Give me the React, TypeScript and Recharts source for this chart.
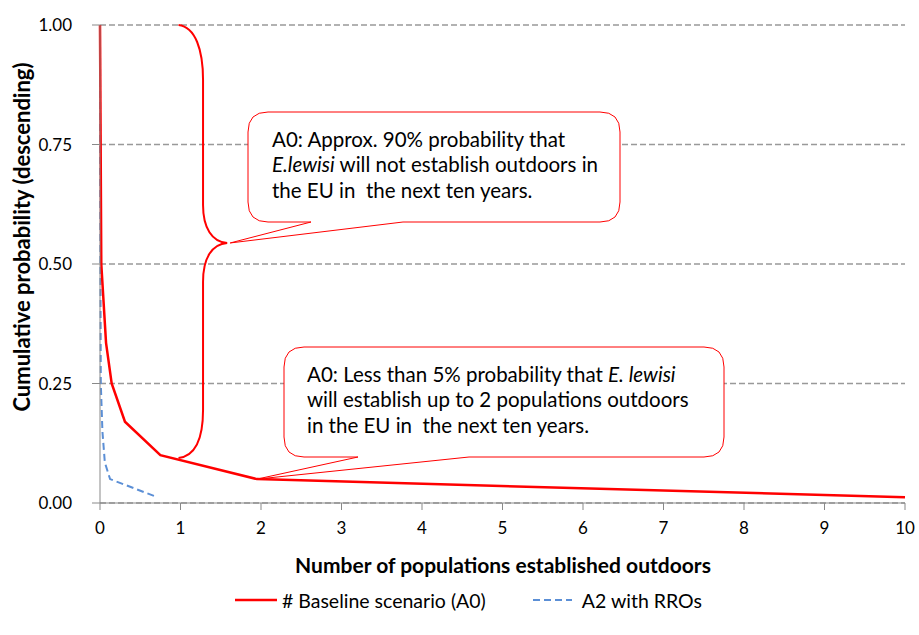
import React from "react";
import {
  LineChart,
  Line,
  XAxis,
  YAxis,
  CartesianGrid,
  Legend,
} from "recharts";

// series
const baselineX = [0, 0.016, 0.075, 0.145, 0.31, 0.75, 1.95, 10];
const baselineY = [1.0, 0.5, 0.335, 0.25, 0.17, 0.1, 0.05, 0.012];
const rroX = [0, 0.005, 0.01, 0.03, 0.06, 0.125, 0.7];
const rroY = [1.0, 0.5, 0.25, 0.15, 0.085, 0.05, 0.013];

const xTicks = [0, 1, 2, 3, 4, 5, 6, 7, 8, 9, 10];
const yTicks = [0, 0.25, 0.5, 0.75, 1];

const baselineName = "# Baseline scenario (A0)";
const rroName = "A2 with RROs";

const baselineData = baselineX.map((x, i) => ({ x, y: baselineY[i] }));
const rroData = rroX.map((x, i) => ({ x, y: rroY[i] }));

const W = 919;
const H = 635;
const FONT = "Lato, 'Open Sans', sans-serif";
const LEGEND_H = 20; // legend box height, recharts takes it off the plot

// plot box
const LEFT = 100;
const RIGHT = 905;
const TOP = 25;
const BOTTOM = 503;
const sx = (v: number) => LEFT + (v / 10) * (RIGHT - LEFT);
const sy = (v: number) => BOTTOM - v * (BOTTOM - TOP);

function callout(
  x0: number,
  y0: number,
  x1: number,
  y1: number,
  tailA: number,
  tailB: number,
  tip: [number, number]
) {
  const r = 20;
  return [
    `M${x0 + r},${y0}`,
    `H${x1 - r}`,
    `Q${x1},${y0} ${x1},${y0 + r}`,
    `V${y1 - r}`,
    `Q${x1},${y1} ${x1 - r},${y1}`,
    `H${tailB}`,
    `L${tip[0]},${tip[1]}`,
    `L${tailA},${y1}`,
    `H${x0 + r}`,
    `Q${x0},${y1} ${x0},${y1 - r}`,
    `V${y0 + r}`,
    `Q${x0},${y0} ${x0 + r},${y0}`,
    "Z",
  ].join(" ");
}

function Annotations() {
  // brace from (1, 1.0) to (1, 0.094) pointing at (1.58, 0.544)
  const bx = sx(1) - 2;
  const vx = sx(1.28);
  const tipX = sx(1.58);
  const tipY = sy(0.544);
  const top = sy(1);
  const bot = sy(0.094);
  const brace = `M${bx},${top} C${bx + 17},${top + 2} ${vx},${top + 25} ${vx},${top + 55}
    L${vx},${tipY - 38} C${vx},${tipY - 15} ${vx + 9},${tipY - 1} ${tipX},${tipY}
    C${vx + 9},${tipY + 1} ${vx},${tipY + 15} ${vx},${tipY + 39}
    L${vx},${bot - 48} C${vx},${bot - 18} ${vx - 8},${bot - 2} ${bx},${bot}`;

  const tip2: [number, number] = [sx(1.95), sy(0.05)];
  const tip1: [number, number] = [tipX + 3, tipY];

  const txt = { fontFamily: FONT, fontSize: 20.5, fill: "#000" };
  return (
    <svg
      width={W}
      height={H}
      style={{ position: "absolute", left: 0, top: 0, pointerEvents: "none" }}
    >
      <path d={brace} fill="none" stroke="#FF0000" strokeWidth={2} />
      <path
        d={callout(248, 112, 620, 222, 311, 403, tip1)}
        fill="#fff"
        stroke="#FF0000"
        strokeWidth={1}
      />
      <text x={272} y={147} {...txt}>
        A0: Approx. 90% probability that
      </text>
      <text x={272} y={172} {...txt}>
        <tspan fontStyle="italic">E.lewisi</tspan> will not establish outdoors in
      </text>
      <text x={272} y={198} {...txt} xmlSpace="preserve">
        the EU in  the next ten years.
      </text>

      <path
        d={callout(284, 347, 724, 457, 358, 469, tip2)}
        fill="#fff"
        stroke="#FF0000"
        strokeWidth={1}
      />
      <text x={307} y={382} {...txt}>
        A0: Less than 5% probability that{" "}
        <tspan fontStyle="italic">E. lewisi</tspan>
      </text>
      <text x={307} y={407} {...txt}>
        will establish up to 2 populations outdoors
      </text>
      <text x={307} y={433} {...txt} xmlSpace="preserve">
        in the EU in  the next ten years.
      </text>
    </svg>
  );
}

function LegendContent() {
  return (
    <div
      style={{
        height: LEGEND_H,
        display: "flex",
        justifyContent: "center",
        alignItems: "center",
        fontFamily: FONT,
        fontSize: 19.5,
        color: "#000",
        paddingLeft: 18,
      }}
    >
      <svg width={42} height={10} style={{ marginRight: 5 }}>
        <line x1={0} y1={5} x2={42} y2={5} stroke="#FF0000" strokeWidth={2.5} />
      </svg>
      <span style={{ marginRight: 47 }}>{baselineName}</span>
      <svg width={39} height={10} style={{ marginRight: 10 }}>
        <line
          x1={0}
          y1={5}
          x2={39}
          y2={5}
          stroke="#5B8FD6"
          strokeWidth={2}
          strokeDasharray="7 4"
        />
      </svg>
      <span>{rroName}</span>
    </div>
  );
}

export default function App() {
  return (
    <div
      style={{
        position: "absolute",
        left: 0,
        top: 0,
        width: W,
        height: H,
        background: "#fff",
      }}
    >
      <LineChart
        width={W}
        height={H}
        margin={{ top: TOP, right: W - RIGHT, left: 40, bottom: 0 }}
      >
        <CartesianGrid
          vertical={false}
          stroke="#999"
          strokeDasharray="6 3"
          strokeWidth={1.3}
        />
        <XAxis
          dataKey="x"
          type="number"
          domain={[0, 10]}
          ticks={xTicks}
          allowDuplicatedCategory={false}
          height={H - BOTTOM - LEGEND_H}
          stroke="#898989"
          tickSize={7}
          tickMargin={12}
          tick={{ fontFamily: FONT, fontSize: 17, fill: "#000" }}
          label={{
            content: () => (
              <text
                x={503}
                y={573}
                textAnchor="middle"
                fontFamily={FONT}
                fontWeight="bold"
                fontSize={21}
                fill="#000"
              >
                Number of populations established outdoors
              </text>
            ),
          }}
        />
        <YAxis
          type="number"
          domain={[0, 1]}
          ticks={yTicks}
          width={LEFT - 40}
          stroke="#898989"
          tickSize={8}
          tickMargin={13}
          tickFormatter={(v: number) => v.toFixed(2)}
          tick={{ fontFamily: FONT, fontSize: 17, fill: "#000", dx: -7 }}
          label={{
            content: () => (
              <text
                x={30}
                y={237}
                textAnchor="middle"
                transform="rotate(-90 30 237)"
                fontFamily={FONT}
                fontWeight="bold"
                fontSize={22}
                fill="#000"
              >
                Cumulative probability (descending)
              </text>
            ),
          }}
        />
        <Legend
          verticalAlign="bottom"
          content={() => <LegendContent />}
          wrapperStyle={{ position: "absolute", top: 590, left: 0, width: W }}
        />
        <Line
          data={rroData}
          dataKey="y"
          name={rroName}
          stroke="#5B8FD6"
          strokeWidth={2}
          strokeDasharray="7 4"
          dot={false}
          isAnimationActive={false}
        />
        <Line
          data={baselineData}
          dataKey="y"
          name={baselineName}
          stroke="#FF0000"
          strokeWidth={2.5}
          dot={false}
          isAnimationActive={false}
        />
      </LineChart>
      <Annotations />
    </div>
  );
}
